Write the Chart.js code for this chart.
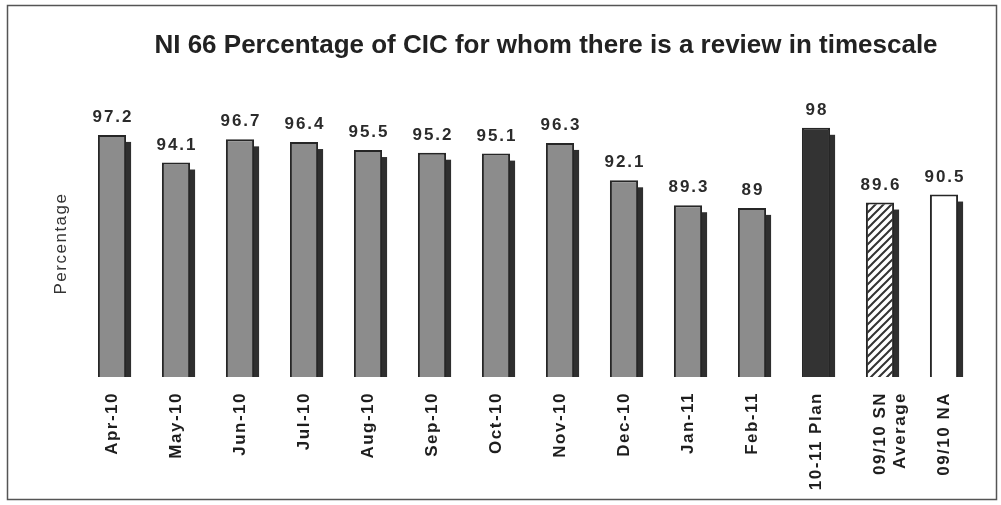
<!DOCTYPE html>
<html>
<head>
<meta charset="utf-8">
<title>NI 66 Percentage of CIC</title>
<script src="https://cdn.jsdelivr.net/npm/chart.js@4.4.1/dist/chart.umd.min.js"></script>
<style>
  html, body { margin: 0; padding: 0; background: #fff; }
  #wrap { width: 1001px; height: 505px; }
</style>
</head>
<body>
<div id="wrap"><canvas id="chart" width="1001" height="505"></canvas></div>
<script>
// ─── Data ───────────────────────────────
const chartTitle = 'NI 66 Percentage of CIC for whom there is a review in timescale';
const categories = ['Apr-10', 'May-10', 'Jun-10', 'Jul-10', 'Aug-10', 'Sep-10', 'Oct-10',
                    'Nov-10', 'Dec-10', 'Jan-11', 'Feb-11', '10-11 Plan', ['09/10 SN', 'Average'], '09/10 NA'];
const values     = [97.2, 94.1, 96.7, 96.4, 95.5, 95.2, 95.1, 96.3, 92.1, 89.3, 89, 98, 89.6, 90.5];
const yRange     = [70, 100];

const FONT = '"Liberation Sans", Arial, sans-serif';
Chart.defaults.font.family = FONT;

// ─── Hatch pattern (SN average) ─────────
function makeHatch() {
  const c = document.createElement('canvas');
  c.width = 8; c.height = 8;
  const g = c.getContext('2d');
  g.fillStyle = '#fff';
  g.fillRect(0, 0, 8, 8);
  g.strokeStyle = '#333';
  g.lineWidth = 2;
  g.beginPath();
  g.moveTo(-2, 10); g.lineTo(10, -2);
  g.moveTo(-2, 2);  g.lineTo(2, -2);
  g.moveTo(6, 10);  g.lineTo(10, 6);
  g.stroke();
  return document.getElementById('chart').getContext('2d').createPattern(c, 'repeat');
}
const hatch = makeHatch();

// months grey, plan solid, SN hatched, NA empty
function barFill(i) {
  if (i < 11) return '#8c8c8c';
  if (i === 11) return '#333';
  if (i === 12) return hatch;
  return '#fff';
}

// ─── Frame + background ─────────────────
const framePlugin = {
  id: 'frame',
  beforeDraw(chart) {
    const ctx = chart.ctx;
    ctx.save();
    ctx.fillStyle = '#fff';
    ctx.fillRect(0, 0, chart.width, chart.height);
    ctx.strokeStyle = '#555';
    ctx.lineWidth = 1.5;
    ctx.strokeRect(7.5, 5.5, 989, 494);
    ctx.restore();
    ctx.letterSpacing = '1.5px'; // axis labels are spaced out
  }
};

// ─── Dark side face of each bar ─────────
const sidePlugin = {
  id: 'side',
  beforeDatasetsDraw(chart) {
    const ctx = chart.ctx;
    ctx.save();
    ctx.fillStyle = '#2f2f2f';
    chart.getDatasetMeta(0).data.forEach(bar => {
      const { x, y, base, width } = bar.getProps(['x', 'y', 'base', 'width'], true);
      ctx.fillRect(x + width / 2 - 1, y + 7, 6, base - y - 7);
    });
    ctx.restore();
  }
};

// ─── Value labels + title ───────────────
const labelPlugin = {
  id: 'labels',
  afterDatasetsDraw(chart) {
    const ctx = chart.ctx;
    const meta = chart.getDatasetMeta(0);
    ctx.save();
    ctx.fillStyle = '#2b2b2b';
    ctx.textAlign = 'center';
    ctx.textBaseline = 'alphabetic';
    ctx.font = 'bold 17px ' + FONT;
    ctx.letterSpacing = '2px';
    values.forEach((v, i) => {
      const bar = meta.data[i];
      ctx.fillText(String(v), bar.x + 1, bar.y - 13);
    });
    ctx.font = 'bold 26px ' + FONT;
    ctx.letterSpacing = '0px';
    ctx.fillStyle = '#222';
    ctx.fillText(chartTitle, 546, 53);
    ctx.restore();
  }
};

new Chart(document.getElementById('chart'), {
  type: 'bar',
  data: {
    labels: categories,
    datasets: [{
      data: values,
      base: yRange[0],
      backgroundColor: c => barFill(c.dataIndex),
      borderColor: '#262626',
      borderWidth: 2,
      barPercentage: 0.44,
      categoryPercentage: 1
    }]
  },
  options: {
    responsive: false,
    animation: false,
    layout: { padding: { top: 110, right: 25, left: 0, bottom: 0 } },
    plugins: { legend: { display: false }, tooltip: { enabled: false } },
    scales: {
      x: {
        grid: { display: false },
        border: { display: false },
        ticks: {
          color: '#1e1e1e',
          font: { size: 17, weight: 'bold' },
          padding: 7,
          minRotation: 90,
          maxRotation: 90,
          autoSkip: false
        },
        afterFit: s => { s.height = 128; }
      },
      y: {
        min: yRange[0],
        max: yRange[1],
        grid: { display: false },
        border: { display: false },
        ticks: { display: false },
        title: {
          display: true,
          text: 'Percentage',
          color: '#333',
          font: { size: 17 },
          padding: { top: 51, bottom: 0 }
        },
        afterFit: s => { s.width = 80; }
      }
    }
  },
  plugins: [framePlugin, sidePlugin, labelPlugin]
});
</script>
</body>
</html>
